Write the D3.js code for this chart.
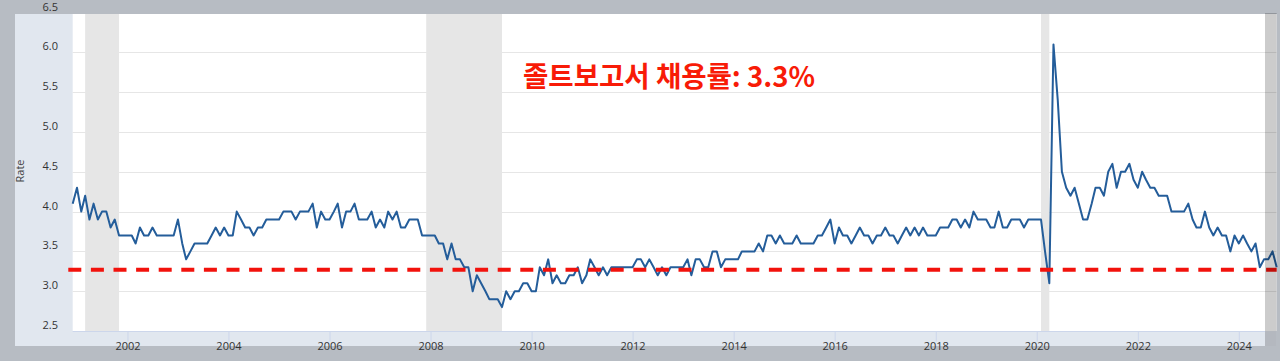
<!DOCTYPE html>
<html>
<head>
<meta charset="utf-8">
<script src="https://cdn.jsdelivr.net/npm/d3@7"></script>
<style>
  html, body { margin: 0; padding: 0; background: #b7bcc3; }
  svg { display: block; }
</style>
</head>
<body>
<svg id="chart" width="1280" height="361"></svg>
<script>
// JOLTS hires rate, monthly, starting Dec 2000
const firstMonth = "2000-12-01";
const hiresRate = [
    4.1, 4.3, 4.0, 4.2, 3.9, 4.1, 3.9, 4.0, 4.0, 3.8, 3.9, 3.7,
    3.7, 3.7, 3.7, 3.6, 3.8, 3.7, 3.7, 3.8, 3.7, 3.7, 3.7, 3.7,
    3.7, 3.9, 3.6, 3.4, 3.5, 3.6, 3.6, 3.6, 3.6, 3.7, 3.8, 3.7,
    3.8, 3.7, 3.7, 4.0, 3.9, 3.8, 3.8, 3.7, 3.8, 3.8, 3.9, 3.9,
    3.9, 3.9, 4.0, 4.0, 4.0, 3.9, 4.0, 4.0, 4.0, 4.1, 3.8, 4.0,
    3.9, 3.9, 4.0, 4.1, 3.8, 4.0, 4.0, 4.1, 3.9, 3.9, 3.9, 4.0,
    3.8, 3.9, 3.8, 4.0, 3.9, 4.0, 3.8, 3.8, 3.9, 3.9, 3.9, 3.7,
    3.7, 3.7, 3.7, 3.6, 3.6, 3.4, 3.6, 3.4, 3.4, 3.3, 3.3, 3.0,
    3.2, 3.1, 3.0, 2.9, 2.9, 2.9, 2.8, 3.0, 2.9, 3.0, 3.0, 3.1,
    3.1, 3.0, 3.0, 3.3, 3.2, 3.4, 3.1, 3.2, 3.1, 3.1, 3.2, 3.2,
    3.3, 3.1, 3.2, 3.4, 3.3, 3.2, 3.3, 3.2, 3.3, 3.3, 3.3, 3.3,
    3.3, 3.3, 3.4, 3.4, 3.3, 3.4, 3.3, 3.2, 3.3, 3.2, 3.3, 3.3,
    3.3, 3.3, 3.4, 3.2, 3.4, 3.4, 3.3, 3.3, 3.5, 3.5, 3.3, 3.4,
    3.4, 3.4, 3.4, 3.5, 3.5, 3.5, 3.5, 3.6, 3.5, 3.7, 3.7, 3.6,
    3.7, 3.6, 3.6, 3.6, 3.7, 3.6, 3.6, 3.6, 3.6, 3.7, 3.7, 3.8,
    3.9, 3.6, 3.8, 3.7, 3.7, 3.6, 3.7, 3.8, 3.7, 3.7, 3.6, 3.7,
    3.7, 3.8, 3.7, 3.7, 3.6, 3.7, 3.8, 3.7, 3.8, 3.7, 3.8, 3.7,
    3.7, 3.7, 3.8, 3.8, 3.8, 3.9, 3.9, 3.8, 3.9, 3.8, 4.0, 3.9,
    3.9, 3.9, 3.8, 3.8, 4.0, 3.8, 3.8, 3.9, 3.9, 3.9, 3.8, 3.9,
    3.9, 3.9, 3.9, 3.5, 3.1, 6.1, 5.4, 4.5, 4.3, 4.2, 4.3, 4.1,
    3.9, 3.9, 4.1, 4.3, 4.3, 4.2, 4.5, 4.6, 4.3, 4.5, 4.5, 4.6,
    4.4, 4.3, 4.5, 4.4, 4.3, 4.3, 4.2, 4.2, 4.2, 4.0, 4.0, 4.0,
    4.0, 4.1, 3.9, 3.8, 3.8, 4.0, 3.8, 3.7, 3.8, 3.7, 3.7, 3.5,
    3.7, 3.6, 3.7, 3.6, 3.5, 3.6, 3.3, 3.4, 3.4, 3.5, 3.3
];

const recessions = [
    ["2001-03-01", "2001-11-01"],
    ["2007-12-01", "2009-06-01"],
    ["2020-02-01", "2020-04-01"]
];

const yTicks = [2.5, 3.0, 3.5, 4.0, 4.5, 5.0, 5.5, 6.0, 6.5];
const xTickYears = [2002, 2004, 2006, 2008, 2010, 2012, 2014, 2016, 2018, 2020, 2022, 2024];
const refLevel = 3.27;
const titleText = "졸트보고서 채용률: 3.3%";
const yTitle = "Rate";

const parseDate = d3.utcParse("%Y-%m-%d");
const start = parseDate(firstMonth);
const series = hiresRate.map((v, i) => ({ date: d3.utcMonth.offset(start, i), value: v }));

const area = {
    panelLeft: 15, top: 14, bottom: 331, panelBottom: 346,
    plotLeft: 72.7, plotRight: 1276.7, whiteRight: 1265
};

const svg = d3.select("#chart");

const scaleX = d3.scaleUtc()
    .domain([start, series[series.length - 1].date])
    .range([area.plotLeft, area.plotRight]);

const scaleY = d3.scaleLinear()
    .domain([2.5, 6.5])
    .range([area.bottom, 12.6]);

// panel + plot background
svg.append("rect")
    .attr("x", area.panelLeft).attr("y", area.top)
    .attr("width", area.plotRight - area.panelLeft)
    .attr("height", area.panelBottom - area.top)
    .attr("fill", "#e1e7ef");

svg.append("rect")
    .attr("x", area.plotLeft).attr("y", area.top)
    .attr("width", area.plotRight - area.plotLeft)
    .attr("height", area.bottom - area.top)
    .attr("fill", "#ffffff");

// recession bands
svg.append("g")
    .selectAll("rect")
    .data(recessions)
    .enter()
    .append("rect")
    .attr("x", d => scaleX(parseDate(d[0])))
    .attr("y", area.top)
    .attr("width", d => scaleX(parseDate(d[1])) - scaleX(parseDate(d[0])))
    .attr("height", area.bottom - area.top)
    .attr("fill", "#e6e6e6");

// grid lines
svg.append("g")
    .selectAll("line")
    .data(yTicks.filter(t => t > 2.5 && t < 6.5))
    .enter()
    .append("line")
    .attr("x1", area.plotLeft).attr("x2", area.plotRight)
    .attr("y1", d => Math.round(scaleY(d)) + 0.5)
    .attr("y2", d => Math.round(scaleY(d)) + 0.5)
    .attr("stroke", "#e6e6e6")
    .attr("stroke-width", 1);

// x axis
const axisX = d3.axisBottom(scaleX)
    .tickValues(xTickYears.map(y => new Date(Date.UTC(y, 0, 1))))
    .tickFormat(d3.utcFormat("%Y"))
    .tickSizeInner(10)
    .tickSizeOuter(0)
    .tickPadding(0);

const gx = svg.append("g")
    .attr("transform", `translate(0, ${area.bottom + 0.5})`)
    .call(axisX);
gx.select(".domain").attr("stroke", "#ccd6eb").attr("d", `M${area.plotLeft},0H${area.whiteRight}`);
gx.selectAll(".tick line").attr("stroke", "#ccd6eb");
gx.selectAll(".tick text")
    .attr("y", 18.5)
    .attr("dy", 0)
    .attr("fill", "#333333")
    .style("font-family", "'Open Sans', sans-serif")
    .style("font-size", "11px");

// y axis labels
svg.append("g")
    .selectAll("text")
    .data(yTicks)
    .enter()
    .append("text")
    .attr("x", 58)
    .attr("y", d => scaleY(d) - 2)
    .attr("text-anchor", "end")
    .attr("fill", "#333333")
    .style("font-family", "'Open Sans', sans-serif")
    .style("font-size", "11px")
    .text(d => d.toFixed(1));

svg.append("text")
    .attr("transform", "translate(24, 171) rotate(-90)")
    .attr("text-anchor", "middle")
    .attr("fill", "#444444")
    .style("font-family", "'Open Sans', sans-serif")
    .style("font-size", "11px")
    .text(yTitle);

// series line
const line = d3.line()
    .x(d => scaleX(d.date))
    .y(d => scaleY(d.value));

svg.append("path")
    .datum(series)
    .attr("d", line)
    .attr("fill", "none")
    .attr("stroke", "#245d9a")
    .attr("stroke-width", 2)
    .attr("stroke-linejoin", "round");

// reference level
svg.append("line")
    .attr("x1", 68.3).attr("x2", area.plotRight)
    .attr("y1", scaleY(refLevel)).attr("y2", scaleY(refLevel))
    .attr("stroke", "#f2120c")
    .attr("stroke-width", 4)
    .attr("stroke-dasharray", "13,9.6");

// title annotation
svg.append("text")
    .attr("x", 523)
    .attr("y", 87)
    .attr("fill", "#f81b07")
    .attr("textLength", 292)
    .attr("lengthAdjust", "spacingAndGlyphs")
    .style("font-family", "'Noto Sans CJK KR', sans-serif")
    .style("font-weight", "700")
    .style("font-size", "28px")
    .text(titleText);

// right edge overlay strip
svg.append("rect")
    .attr("x", area.whiteRight).attr("y", 13)
    .attr("width", area.plotRight - area.whiteRight)
    .attr("height", area.panelBottom - 13)
    .attr("fill", "rgba(0,0,0,0.2)");
</script>
</body>
</html>
